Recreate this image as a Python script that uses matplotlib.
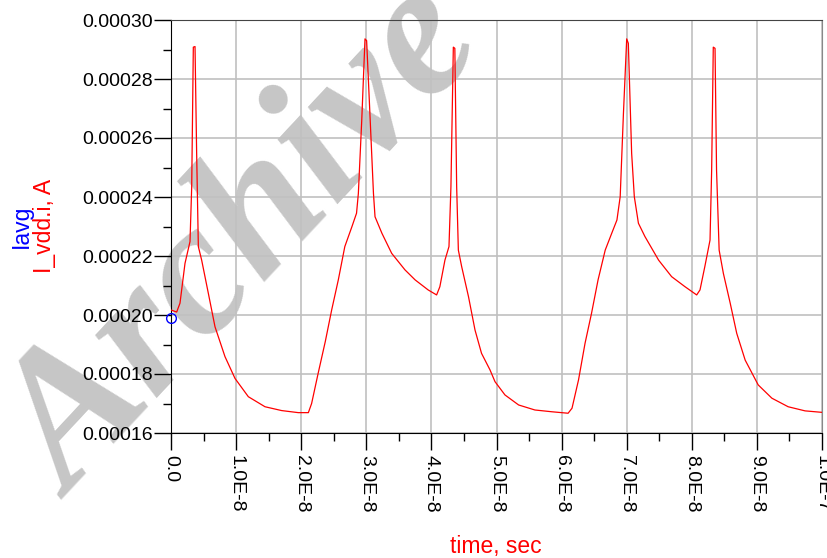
import numpy as np
import matplotlib
matplotlib.use('Agg')
import matplotlib.pyplot as plt

# time in units of 1e-8 s, current in units of 1e-5 A
t_e8 = [0.0, 0.087, 0.138, 0.215, 0.292, 0.318, 0.343, 0.369, 0.394, 0.420,
        0.471, 0.574, 0.676, 0.829, 0.983, 1.188, 1.444, 1.70, 1.956, 2.11,
        2.16, 2.26, 2.37, 2.468, 2.57, 2.67, 2.78, 2.85, 2.878, 2.93,
        2.98, 3.005, 3.06, 3.11, 3.134, 3.24, 3.39, 3.594, 3.75, 3.95,
        4.08, 4.13, 4.208, 4.27, 4.30, 4.337, 4.36, 4.388, 4.414, 4.465,
        4.57, 4.67, 4.77, 4.90, 4.977, 5.13, 5.34, 5.59, 5.85, 6.10,
        6.16, 6.26, 6.36, 6.46, 6.56, 6.67, 6.77, 6.85, 6.90, 6.95,
        7.00, 7.025, 7.076, 7.117, 7.18, 7.28, 7.49, 7.69, 7.895, 8.075,
        8.126, 8.20, 8.28, 8.305, 8.33, 8.357, 8.38, 8.42, 8.485, 8.59,
        8.69, 8.82, 9.02, 9.23, 9.48, 9.74, 10.0]
i_e5 = [20.17, 20.10, 20.40, 21.75, 22.49, 24.35, 29.08, 29.10, 25.48, 22.32,
        21.86, 20.73, 19.60, 18.59, 17.85, 17.23, 16.89, 16.76, 16.69, 16.69,
        17.00, 18.02, 19.10, 20.17, 21.19, 22.32, 23.00, 23.45, 24.12, 26.60,
        29.36, 29.30, 26.60, 24.12, 23.33, 22.77, 22.09, 21.53, 21.19, 20.85,
        20.68, 20.96, 21.86, 22.32, 24.35, 29.08, 29.04, 24.35, 22.20, 21.64,
        20.62, 19.49, 18.70, 18.14, 17.74, 17.29, 16.95, 16.78, 16.72, 16.67,
        16.84, 17.80, 19.04, 20.06, 21.19, 22.20, 22.77, 23.22, 24.01, 26.84,
        29.36, 29.21, 25.48, 24.01, 23.11, 22.66, 21.86, 21.30, 20.96, 20.68,
        20.85, 21.64, 22.54, 24.92, 29.08, 29.04, 24.92, 22.20, 21.41, 20.40,
        19.38, 18.47, 17.63, 17.18, 16.89, 16.75, 16.70]

iavg_t = [0.0]
iavg_val = [19.9]

x_ticks = [0, 1, 2, 3, 4, 5, 6, 7, 8, 9, 10]
x_ticklabels = ['0.0', '1.0E-8', '2.0E-8', '3.0E-8', '4.0E-8', '5.0E-8',
                '6.0E-8', '7.0E-8', '8.0E-8', '9.0E-8', '1.0E-7']
y_ticks = [16, 18, 20, 22, 24, 26, 28, 30]
y_ticklabels = ['0.00016', '0.00018', '0.00020', '0.00022', '0.00024',
                '0.00026', '0.00028', '0.00030']

t = np.array(t_e8) * 1e-8
cur = np.array(i_e5) * 1e-5

plt.rcParams['font.family'] = ['Liberation Sans', 'DejaVu Sans']

fig = plt.figure(figsize=(8.27, 5.58), dpi=100)
ax = fig.add_axes([171/827, 1-433/558, (822-171)/827, (433-20)/558])

# watermark, behind everything
fig.text(72/827, 1-500/558, 'Archive copy', fontsize=137, family='Liberation Serif',
         fontweight='bold', style='italic', color='#c6c6c6', rotation=47,
         rotation_mode='anchor', ha='left', va='baseline', zorder=-1)
ax.patch.set_alpha(0)

ax.plot(t, cur, color='red', lw=0.9, zorder=3)
ax.plot(np.array(iavg_t)*1e-8, np.array(iavg_val)*1e-5, 'o', mfc='none', mec='blue',
        ms=7, mew=1, zorder=4, clip_on=False)

ax.set_xlim(0, 1e-7)
ax.set_ylim(0.00016, 0.00030)
ax.set_xticks(np.array(x_ticks)*1e-8)
ax.set_xticklabels(x_ticklabels, rotation=-90, fontsize=14)
ax.set_yticks(np.array(y_ticks)*1e-5)
ax.set_yticklabels(y_ticklabels, fontsize=14)
ax.set_xticks(np.arange(0.5, 10, 1)*1e-8, minor=True)
ax.set_yticks(np.arange(17, 30, 2)*1e-5, minor=True)
ax.tick_params(which='major', length=12, width=1, pad=1)
ax.tick_params(axis='x', which='major', pad=4)
ax.tick_params(which='minor', length=6, width=1)
ax.grid(True, which='major', color='#c0c0c0', lw=1.2)

ax.spines['top'].set_color('#444444')
ax.spines['right'].set_color('#888888')

fig.text(496/827, 1-547/558, 'time, sec', color='red', fontsize=16.5,
         ha='center', va='center')
fig.text(21/827, 1-226/558, 'Iavg', color='blue', fontsize=16.5, rotation=90,
         ha='center', va='center')
fig.text(44/827, 1-226/558, 'I_vdd.i, A', color='red', fontsize=16.5, rotation=90,
         ha='center', va='center')

fig.savefig('out.png', dpi=100)
